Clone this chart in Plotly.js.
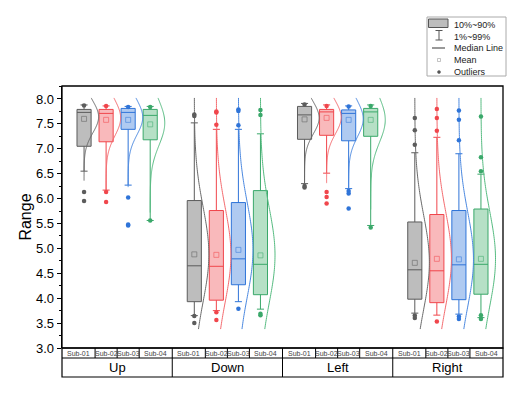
<!DOCTYPE html>
<html><head><meta charset="utf-8">
<script src="https://cdn.plot.ly/plotly-3.0.1.min.js"></script>
<style>html,body{margin:0;padding:0;background:#fff}#chart{width:526px;height:399px}</style>
</head><body><div id="chart"></div>
<script>
// ---- data ----
const groups = ['Up', 'Down', 'Left', 'Right'];
const subjects = ['Sub-01', 'Sub-02', 'Sub-03', 'Sub-04'];
// rows: groups, columns: subjects
const p10 = [[7.05, 7.14, 7.39, 7.18], [3.93, 3.96, 4.27, 4.07], [7.19, 7.27, 7.16, 7.25], [3.98, 3.91, 3.97, 4.08]];
const med = [[7.73, 7.71, 7.73, 7.67], [4.65, 4.64, 4.79, 4.68], [7.68, 7.74, 7.71, 7.74], [4.57, 4.55, 4.67, 4.68]];
const p90 = [[7.79, 7.79, 7.81, 7.79], [5.96, 5.76, 5.92, 6.16], [7.85, 7.79, 7.78, 7.81], [5.53, 5.68, 5.76, 5.79]];
const p1 = [[6.55, 6.17, 6.27, 5.56], [3.65, 3.75, 3.93, 3.78], [6.30, 6.51, 6.20, 5.46], [3.70, 3.66, 3.68, 3.61]];
const p99 = [[7.88, 7.86, 7.85, 7.85], [7.52, 7.39, 7.39, 7.30], [7.91, 7.88, 7.86, 7.88], [6.92, 7.23, 6.90, 6.49]];
const means = [[7.60, 7.58, 7.58, 7.49], [4.88, 4.87, 4.97, 4.86], [7.59, 7.62, 7.58, 7.58], [4.71, 4.79, 4.78, 4.79]];
const outliers = [
  [[6.13, 5.95, 7.87], [6.13, 5.93, 7.86], [6.02, 5.46, 5.48, 7.84], [7.84, 5.56]],
  [[7.69, 7.66, 3.50, 3.64], [7.73, 7.75, 7.48, 3.72, 3.56], [7.79, 7.76, 7.47, 3.79], [7.78, 7.68, 3.69, 3.66]],
  [[6.25, 6.22, 7.89], [6.13, 6.03, 5.90, 7.86], [6.15, 6.10, 5.80, 7.85], [5.42, 7.86]],
  [[7.08, 7.37, 7.62, 3.65, 3.60], [7.36, 7.62, 7.80, 3.53], [7.17, 7.58, 7.77, 3.63, 3.58], [6.55, 6.83, 7.65, 3.66, 3.58]]
];
// normal-curve parameters of each distribution
const curveMu = [[7.64, 7.62, 7.63, 7.52], [4.88, 4.87, 4.97, 4.86], [7.62, 7.63, 7.60, 7.58], [4.72, 4.79, 4.78, 4.79]];
const curveSd = [[0.32, 0.36, 0.35, 0.45], [0.95, 0.95, 0.95, 0.95], [0.32, 0.33, 0.36, 0.45], [0.95, 0.95, 0.95, 0.95]];
const legItems = ['10%~90%', '1%~99%', 'Median Line', 'Mean', 'Outliers'];

// ---- styles ----
const edge = ['#5c5c5c', '#f0464c', '#2f74d8', '#3aa86a'];
const fill = ['#bdbdbd', '#f9b9bb', '#afcaf1', '#b6e0c6'];
const curveCol = ['#6a6a6a', '#f46a6e', '#4a88e0', '#55bb80'];
const font = 'Liberation Sans, Arial, sans-serif';

const L = 62, R = 503, T = 86, B = 348, W = 526, H = 399;
const P = x => (x - L) / (R - L);
const Q = y => (B - y) / (B - T);

const traces = [];
const shapes = [];
const annotations = [];
const cellCenter = [0.75, 2, 3, 4.25];

groups.forEach((g, gi) => {
  subjects.forEach((s, si) => {
    const pos = gi * 5 + si + 1;
    // distribution curve
    const ys = [], xs = [];
    const mu = curveMu[gi][si], sd = curveSd[gi][si];
    const lo = Math.max(3.38, mu - 4 * sd), hi = Math.min(8.02, mu + 4 * sd);
    for (let k = 0; k <= 120; k++) {
      const y = lo + (hi - lo) * k / 120;
      ys.push(y);
      xs.push(pos + 0.66 * Math.exp(-((y - mu) ** 2) / (2 * sd * sd)));
    }
    traces.push({type: 'scatter', mode: 'lines', x: xs, y: ys, showlegend: false, hoverinfo: 'skip',
      line: {color: curveCol[si], width: 1, shape: 'spline'}});
    // box
    traces.push({type: 'box', x: [pos], q1: [p10[gi][si]], median: [med[gi][si]], q3: [p90[gi][si]],
      lowerfence: [p1[gi][si]], upperfence: [p99[gi][si]], boxpoints: false, width: 0.64, whiskerwidth: 0.5,
      fillcolor: fill[si], line: {color: edge[si], width: 1}, showlegend: false, hoverinfo: 'skip'});
    // mean
    traces.push({type: 'scatter', mode: 'markers', x: [pos], y: [means[gi][si]], showlegend: false,
      marker: {symbol: 'square-open', size: 5, color: edge[si], line: {width: 0.7}}, opacity: 0.75});
    // outliers
    const o = outliers[gi][si];
    traces.push({type: 'scatter', mode: 'markers', x: o.map(() => pos), y: o, showlegend: false,
      marker: {symbol: 'circle', size: 4.5, color: edge[si]}});
    // sub label
    annotations.push({x: gi * 5 + cellCenter[si], y: Q(353), xref: 'x', yref: 'paper', text: s, showarrow: false,
      font: {family: font, size: 7, color: '#444'}, xanchor: 'center', yanchor: 'middle'});
    if (si < 3) {
      shapes.push({type: 'line', xref: 'x', yref: 'paper', x0: pos + 0.5, x1: pos + 0.5, y0: Q(348), y1: Q(358),
        line: {color: '#000', width: 1}});
    }
  });
  annotations.push({x: gi * 5 + 2.5, y: Q(367.5), xref: 'x', yref: 'paper', text: g, showarrow: false,
    font: {family: font, size: 13, color: '#000'}, xanchor: 'center', yanchor: 'middle'});
  if (gi > 0) {
    shapes.push({type: 'line', xref: 'x', yref: 'paper', x0: gi * 5, x1: gi * 5, y0: Q(348), y1: Q(377),
      line: {color: '#000', width: 1}});
  }
});

// frames
shapes.push({type: 'rect', xref: 'paper', yref: 'paper', x0: 0, x1: 1, y0: 0, y1: 1, line: {color: '#000', width: 1.3}});
shapes.push({type: 'rect', xref: 'paper', yref: 'paper', x0: 0, x1: 1, y0: Q(377), y1: 0, line: {color: '#000', width: 1.2}});
shapes.push({type: 'line', xref: 'paper', yref: 'paper', x0: 0, x1: 1, y0: Q(358), y1: Q(358), line: {color: '#000', width: 1}});

// custom legend
shapes.push({type: 'rect', xref: 'paper', yref: 'paper', x0: P(427), x1: P(506), y0: Q(17), y1: Q(76),
  line: {color: '#aaa', width: 1}, fillcolor: '#fff'});
shapes.push({type: 'rect', xref: 'paper', yref: 'paper', x0: P(428.5), x1: P(448), y0: Q(19), y1: Q(27.5),
  line: {color: '#555', width: 1}, fillcolor: '#bdbdbd'});
shapes.push({type: 'line', xref: 'paper', yref: 'paper', x0: P(439), x1: P(439), y0: Q(30.5), y1: Q(40), line: {color: '#555', width: 1}});
shapes.push({type: 'line', xref: 'paper', yref: 'paper', x0: P(435.5), x1: P(442.5), y0: Q(30.5), y1: Q(30.5), line: {color: '#555', width: 1}});
shapes.push({type: 'line', xref: 'paper', yref: 'paper', x0: P(435.5), x1: P(442.5), y0: Q(40), y1: Q(40), line: {color: '#555', width: 1}});
shapes.push({type: 'line', xref: 'paper', yref: 'paper', x0: P(432), x1: P(445), y0: Q(48), y1: Q(48), line: {color: '#555', width: 1.2}});
shapes.push({type: 'rect', xref: 'paper', yref: 'paper', x0: P(437.5), x1: P(440.5), y0: Q(58.5), y1: Q(61.5), line: {color: '#aaa', width: 0.7}});
shapes.push({type: 'circle', xref: 'paper', yref: 'paper', x0: P(437.5), x1: P(440.5), y0: Q(70.5), y1: Q(73.5), line: {color: '#555', width: 0.5}, fillcolor: '#555'});
annotations.push({x: P(452), y: Q(48.4), xref: 'paper', yref: 'paper', text: legItems.join('<br>'), showarrow: false,
  xanchor: 'left', yanchor: 'middle', align: 'left', font: {family: font, size: 9, color: '#222'}});

const layout = {
  width: W, height: H,
  margin: {l: L, r: W - R, t: T, b: H - B, pad: 0},
  paper_bgcolor: '#fff', plot_bgcolor: '#fff',
  boxmode: 'overlay',
  showlegend: false,
  xaxis: {range: [0, 20], showgrid: false, zeroline: false, showticklabels: false, ticks: '', showline: false},
  yaxis: {range: [3, 8.26], tick0: 3, dtick: 0.5, tickformat: '.1f', ticks: 'outside', ticklen: 4, tickwidth: 1,
    tickcolor: '#000', showgrid: false, zeroline: false, showline: true, linecolor: '#000', linewidth: 1.3,
    minor: {ticks: 'outside', ticklen: 2, dtick: 0.25, tickcolor: '#000'},
    tickfont: {family: font, size: 13, color: '#000'},
    title: {text: 'Range', font: {family: font, size: 16, color: '#000'}, standoff: 0}},
  shapes: shapes,
  annotations: annotations
};

Plotly.newPlot('chart', traces, layout, {displayModeBar: false, staticPlot: true});
</script></body></html>
